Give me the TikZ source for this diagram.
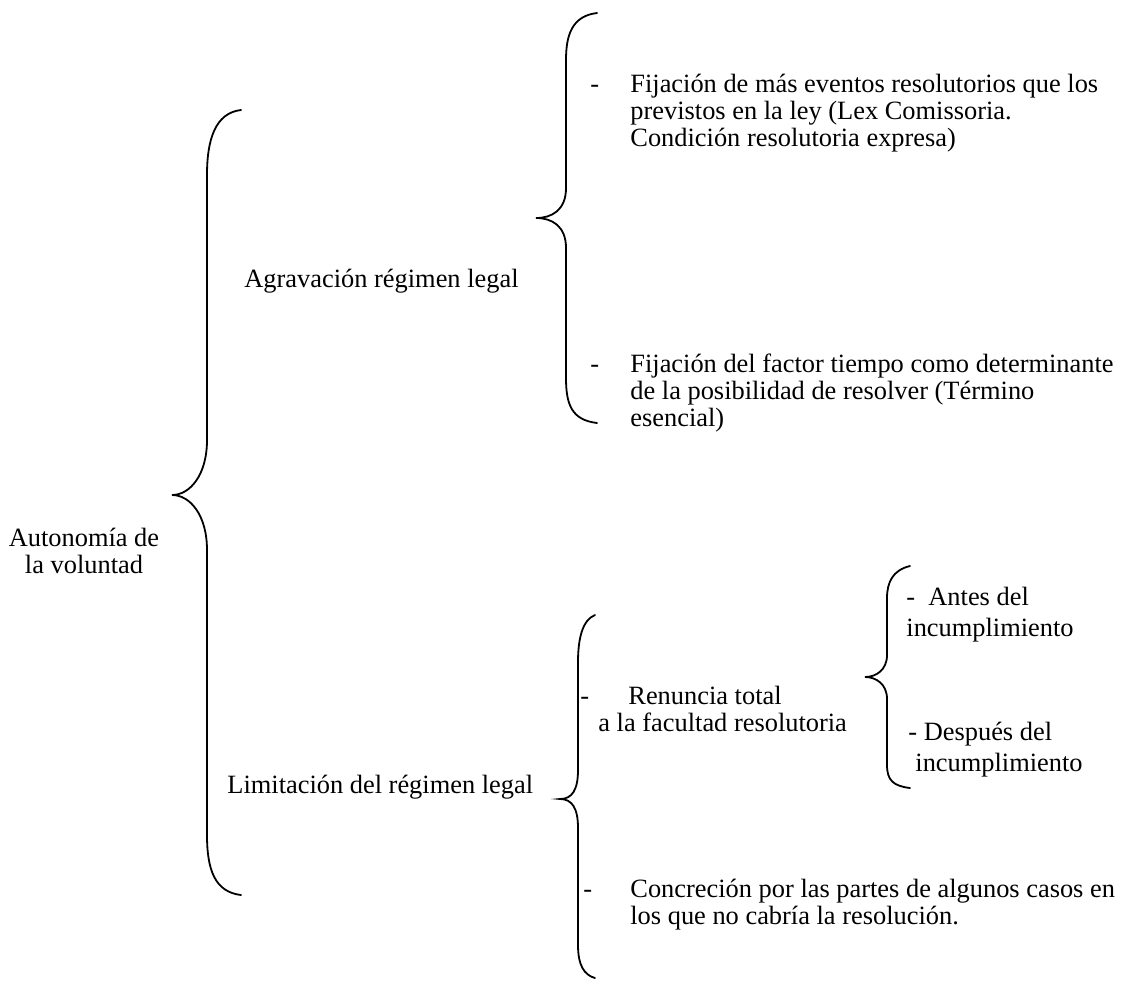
\documentclass[tikz,border=0pt]{standalone}
\usepackage{fontspec}
\setmainfont{Liberation Serif}
\usetikzlibrary{positioning}

\begin{document}
\begin{tikzpicture}[x=0.5pt, y=-0.5pt]
    \tikzstyle{txt} = [inner sep=0pt, anchor=base west, align=left,
                       font=\fontsize{13.2}{13.5}\selectfont]
    \tikzstyle{small} = [txt, font=\fontsize{13.2}{15.5}\selectfont]
    \tikzstyle{brace} = [line width=0.9pt, line cap=round]

    \useasboundingbox (0,0) rectangle (1123,980);

    % braces
    \draw [brace] (241,110) .. controls (215,113) and (207,140) .. (207,175)
        -- (207,440) .. controls (207,475) and (190,495) .. (172,495)
        .. controls (190,495) and (207,515) .. (207,550)
        -- (207,835) .. controls (207,870) and (215,892) .. (241,895);
    \draw [brace] (597,13) .. controls (572,16) and (566,35) .. (566,60)
        -- (566,188) .. controls (566,210) and (552,218) .. (536,218)
        .. controls (552,218) and (566,226) .. (566,248)
        -- (566,378) .. controls (566,405) and (572,420) .. (597,423);
    \draw [brace] (595,615) .. controls (582,620) and (578,640) .. (578,662)
        -- (578,770) .. controls (578,790) and (572,799) .. (560,799)
        .. controls (572,799) and (578,808) .. (578,828)
        -- (578,945) .. controls (578,965) and (584,975) .. (595,978);
    \draw [brace] (910,566) .. controls (893,570) and (887,582) .. (887,598)
        -- (887,655) .. controls (887,670) and (876,677) .. (865,677)
        .. controls (876,677) and (887,684) .. (887,699)
        -- (887,765) .. controls (887,780) and (893,786) .. (910,788);

    % texts
    \node (auto)  [txt, align=center, anchor=base] at (84,573)
        {Autonomía de\\la voluntad};
    \node (agrav) [txt] at (244,287) {Agravación régimen legal};
    \node (limit) [txt] at (227,793) {Limitación del régimen legal};

    \node (d1) [txt] at (590,92) {-};
    \node (t1) [txt] at (630,146) {Fijación de más eventos resolutorios que los\\
        previstos en la ley (Lex Comissoria.\\Condición resolutoria expresa)};
    \node (d2) [txt] at (590,372) {-};
    \node (t2) [txt] at (630,426) {Fijación del factor tiempo como determinante\\
        de la posibilidad de resolver (Término\\esencial)};

    \node (d3) [txt] at (580,704) {-};
    \node (t3) [txt] at (628,704) {Renuncia total};
    \node (t3b) [txt] at (598,731) {a la facultad resolutoria};
    \node (antes) [small] at (906,636) {-\ \ Antes del\\incumplimiento};
    \node (desp)  [small] at (908,771) {- Después del\\\hspace{3.5pt}incumplimiento};

    \node (d6) [txt] at (583,897) {-};
    \node (t6) [txt] at (630,924) {Concreción por las partes de algunos casos en\\
        los que no cabría la resolución.};
\end{tikzpicture}
\end{document}
